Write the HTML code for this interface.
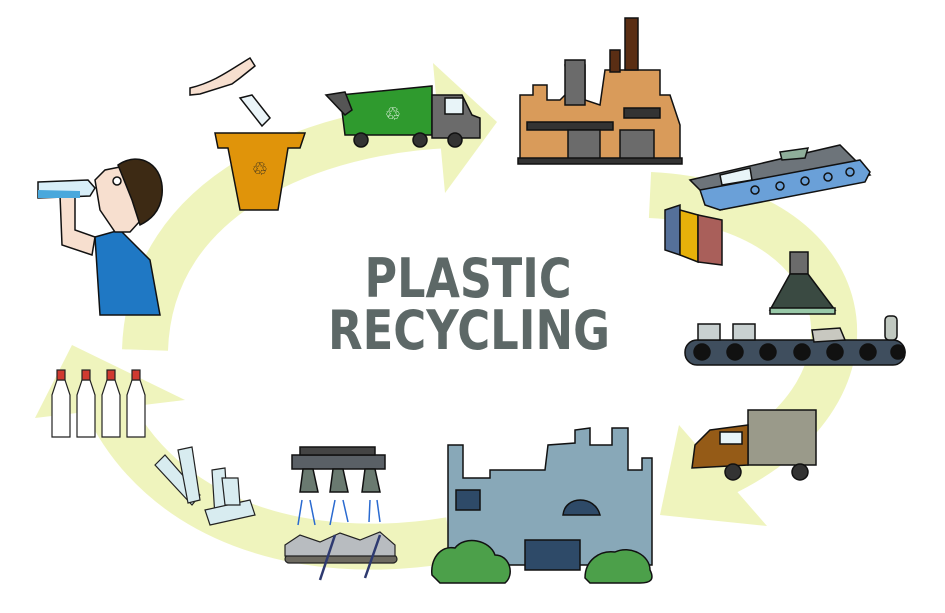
<!DOCTYPE html>
<html><head><meta charset="utf-8"><style>
html,body{margin:0;padding:0;background:#fff;width:945px;height:613px;overflow:hidden}
svg{display:block}
</style></head><body>
<svg width="945" height="613" viewBox="0 0 945 613" xmlns="http://www.w3.org/2000/svg">
<g fill="none" stroke="#eff4bd" stroke-width="46">
<path d="M145 350 C150 190 320 130 450 125"/>
<path d="M650 195 C860 205 900 390 720 475"/>
<path d="M450 540 C300 565 160 520 105 400"/>
</g>
<g fill="#eff4bd">
<polygon points="433,63 497,122 445,193"/>
<polygon points="679,425 767,526 660,515"/>
<polygon points="35,418 72,345 185,400"/>
</g>

<text x="468" y="297" text-anchor="middle" font-family="DejaVu Sans, sans-serif" font-weight="bold" font-size="54" fill="#5d6867" textLength="207" lengthAdjust="spacingAndGlyphs">PLASTIC</text>
<text x="469" y="349" text-anchor="middle" font-family="DejaVu Sans, sans-serif" font-weight="bold" font-size="54" fill="#5d6867" textLength="282" lengthAdjust="spacingAndGlyphs">RECYCLING</text>

<g stroke="#111" stroke-width="1.5">
<!-- man -->
<path d="M95 237 L120 230 L150 260 L160 315 L100 315 Z" fill="#1f78c4"/>
<path d="M60 195 L75 190 L75 230 L95 237 L92 255 L62 245 Z" fill="#f7dfcf"/>
<path d="M95 180 L105 170 L130 165 L150 185 L150 210 L130 232 L115 232 L100 210 Z" fill="#f7dfcf"/>
<path d="M118 165 C140 150 165 165 162 195 C160 212 150 220 140 225 L132 200 Z" fill="#3d2a14"/>
<circle cx="117" cy="181" r="4" fill="#fff"/>
<path d="M38 182 L88 180 L95 188 L90 196 L38 198 Z" fill="#d8eef8"/>
<path d="M38 190 L80 191 L80 198 L38 198 Z" fill="#4aa8dc" stroke="none"/>
<!-- hand -->
<path d="M190 88 C215 82 230 70 250 58 L255 66 L240 78 L232 84 L200 94 L190 95 Z" fill="#f7dfcf"/>
<path d="M240 98 L252 95 L270 118 L262 126 Z" fill="#eaf4f8"/>
<!-- bin -->
<path d="M215 133 L305 133 L300 148 L288 148 L278 210 L240 210 L228 148 L218 148 Z" fill="#e0940a"/>
<text x="260" y="175" text-anchor="middle" font-family="DejaVu Sans, sans-serif" font-size="18" fill="#222" stroke="none">♲</text>
<!-- green truck -->
<path d="M340 95 L432 86 L432 135 L345 135 Z" fill="#2f9a2e"/>
<path d="M326 95 L345 92 L352 110 L345 115 Z" fill="#555"/>
<path d="M432 95 L462 95 L472 115 L480 118 L480 138 L432 138 Z" fill="#6b6b6b"/>
<rect x="445" y="98" width="18" height="16" fill="#e8f4f8"/>
<text x="393" y="120" text-anchor="middle" font-family="DejaVu Sans, sans-serif" font-size="18" fill="#fff" stroke="none">♲</text>
<circle cx="361" cy="140" r="7" fill="#333"/><circle cx="420" cy="140" r="7" fill="#333"/><circle cx="455" cy="140" r="7" fill="#333"/>
<!-- orange factory -->
<path d="M520 162 L520 95 L533 95 L533 85 L547 85 L547 100 L560 100 L568 92 L565 65 L585 65 L585 100 L600 105 L605 70 L660 70 L660 95 L670 95 L680 125 L680 162 Z" fill="#d99b5a"/>
<rect x="625" y="18" width="13" height="52" fill="#5a2e14"/>
<rect x="610" y="50" width="10" height="22" fill="#5a2e14"/>
<rect x="565" y="60" width="20" height="45" fill="#6b6b6b"/>
<rect x="527" y="122" width="86" height="8" fill="#333"/>
<rect x="624" y="108" width="36" height="10" fill="#333"/>
<rect x="568" y="130" width="32" height="30" fill="#6b6b6b"/>
<rect x="620" y="130" width="34" height="30" fill="#6b6b6b"/>
<rect x="518" y="158" width="164" height="6" fill="#333"/>
<!-- blue conveyor -->
<path d="M690 180 L840 145 L870 175 L720 210 Z" fill="#6d747a"/>
<path d="M700 190 L860 160 L870 172 L865 182 L720 210 L705 205 Z" fill="#6aa0d8"/>
<g fill="#6aa0d8"><circle cx="755" cy="190" r="4"/><circle cx="780" cy="186" r="4"/><circle cx="805" cy="181" r="4"/><circle cx="828" cy="177" r="4"/><circle cx="850" cy="172" r="4"/></g>
<path d="M720 175 L750 168 L752 180 L722 185 Z" fill="#e8f4f8"/>
<path d="M780 152 L808 148 L805 158 L782 160 Z" fill="#8fae9a"/>
<!-- bins -->
<path d="M665 210 L680 205 L680 255 L665 250 Z" fill="#55709a"/>
<path d="M680 210 L698 215 L698 262 L680 255 Z" fill="#e7b10a"/>
<path d="M698 215 L722 220 L722 265 L698 262 Z" fill="#a95f5a"/>
<!-- funnel -->
<rect x="790" y="252" width="18" height="22" fill="#6b6b6b"/>
<path d="M790 274 L808 274 L835 310 L770 310 Z" fill="#3a4a42"/>
<rect x="770" y="308" width="65" height="6" fill="#98c8a8"/>
<!-- dark conveyor -->
<rect x="685" y="340" width="220" height="25" rx="12" fill="#3f4e5e"/>
<g fill="#111"><circle cx="702" cy="352" r="8"/><circle cx="735" cy="352" r="8"/><circle cx="768" cy="352" r="8"/><circle cx="802" cy="352" r="8"/><circle cx="835" cy="352" r="8"/><circle cx="868" cy="352" r="8"/><circle cx="898" cy="352" r="7"/></g>
<rect x="698" y="324" width="22" height="16" fill="#c8d0d0"/>
<rect x="733" y="324" width="22" height="16" fill="#c8d0d0"/>
<path d="M812 330 L840 328 L845 340 L814 342 Z" fill="#c8c8c0"/>
<rect x="885" y="316" width="12" height="24" rx="4" fill="#c0c8c0"/>
<!-- brown truck -->
<rect x="748" y="410" width="68" height="55" fill="#9a9a8a"/>
<path d="M710 430 L748 425 L748 465 L692 468 L695 445 Z" fill="#955b17"/>
<rect x="720" y="432" width="22" height="12" fill="#e8f4f8"/>
<circle cx="733" cy="472" r="8" fill="#333"/><circle cx="800" cy="472" r="8" fill="#333"/>
<!-- blue factory -->
<path d="M448 565 L448 445 L463 445 L463 478 L490 478 L490 470 L545 470 L548 445 L575 443 L575 430 L590 428 L590 445 L612 445 L612 428 L628 428 L628 470 L642 470 L642 458 L652 458 L652 565 Z" fill="#88a8b8"/>
<rect x="456" y="490" width="24" height="20" fill="#2e4a68"/>
<path d="M563 515 C565 495 595 495 600 515 Z" fill="#2e4a68"/>
<rect x="525" y="540" width="55" height="30" fill="#2e4a68"/>
<path d="M432 575 C430 560 440 545 455 548 C465 535 490 540 495 555 C510 555 515 575 505 583 L440 583 Z" fill="#4ca04a"/>
<path d="M585 578 C585 560 600 550 615 552 C630 545 650 555 650 570 C655 580 650 583 640 583 L590 583 Z" fill="#4ca04a"/>
<!-- sprayers -->
<rect x="292" y="455" width="93" height="14" fill="#5a6066"/>
<rect x="300" y="447" width="75" height="8" fill="#444"/>
<path d="M303 469 L313 469 L318 492 L300 492 Z" fill="#6a7a70"/>
<path d="M333 469 L343 469 L348 492 L330 492 Z" fill="#6a7a70"/>
<path d="M365 469 L375 469 L380 492 L362 492 Z" fill="#6a7a70"/>
</g>
<g stroke="#2a6ad0" stroke-width="1.5">
<line x1="302" y1="500" x2="298" y2="525"/><line x1="310" y1="500" x2="315" y2="525"/>
<line x1="335" y1="500" x2="330" y2="525"/><line x1="343" y1="500" x2="348" y2="522"/>
<line x1="370" y1="500" x2="369" y2="522"/><line x1="377" y1="500" x2="380" y2="522"/>
</g>
<g stroke="#222" stroke-width="1.2">
<rect x="285" y="555" width="112" height="8" rx="4" fill="#6d6a60"/>
<path d="M285 545 L300 535 L320 542 L340 533 L360 540 L380 532 L395 545 L395 556 L285 556 Z" fill="#b8bcc0"/>
<line x1="320" y1="580" x2="335" y2="535" stroke="#2e3a70" stroke-width="2.5"/>
<line x1="365" y1="578" x2="380" y2="535" stroke="#2e3a70" stroke-width="2.5"/>
<!-- bottles -->
<g fill="#fff">
<path d="M57 380 L65 380 L70 395 L70 437 L52 437 L52 395 Z"/>
<path d="M82 380 L90 380 L95 395 L95 437 L77 437 L77 395 Z"/>
<path d="M107 380 L115 380 L120 395 L120 437 L102 437 L102 395 Z"/>
<path d="M132 380 L140 380 L145 395 L145 437 L127 437 L127 395 Z"/>
</g>
<g fill="#d03a30"><rect x="57" y="370" width="8" height="10"/><rect x="82" y="370" width="8" height="10"/><rect x="107" y="370" width="8" height="10"/><rect x="132" y="370" width="8" height="10"/></g>
<!-- preforms -->
<g fill="#d8ecf0">
<path d="M155 465 L165 455 L200 495 L192 505 Z"/>
<path d="M178 450 L192 447 L200 500 L188 503 Z"/>
<path d="M212 470 L225 468 L228 515 L215 517 Z"/>
<path d="M205 510 L250 500 L255 515 L210 525 Z"/>
<path d="M222 478 L238 478 L240 505 L225 505 Z"/>
</g>
</g>
</svg>
</body></html>
